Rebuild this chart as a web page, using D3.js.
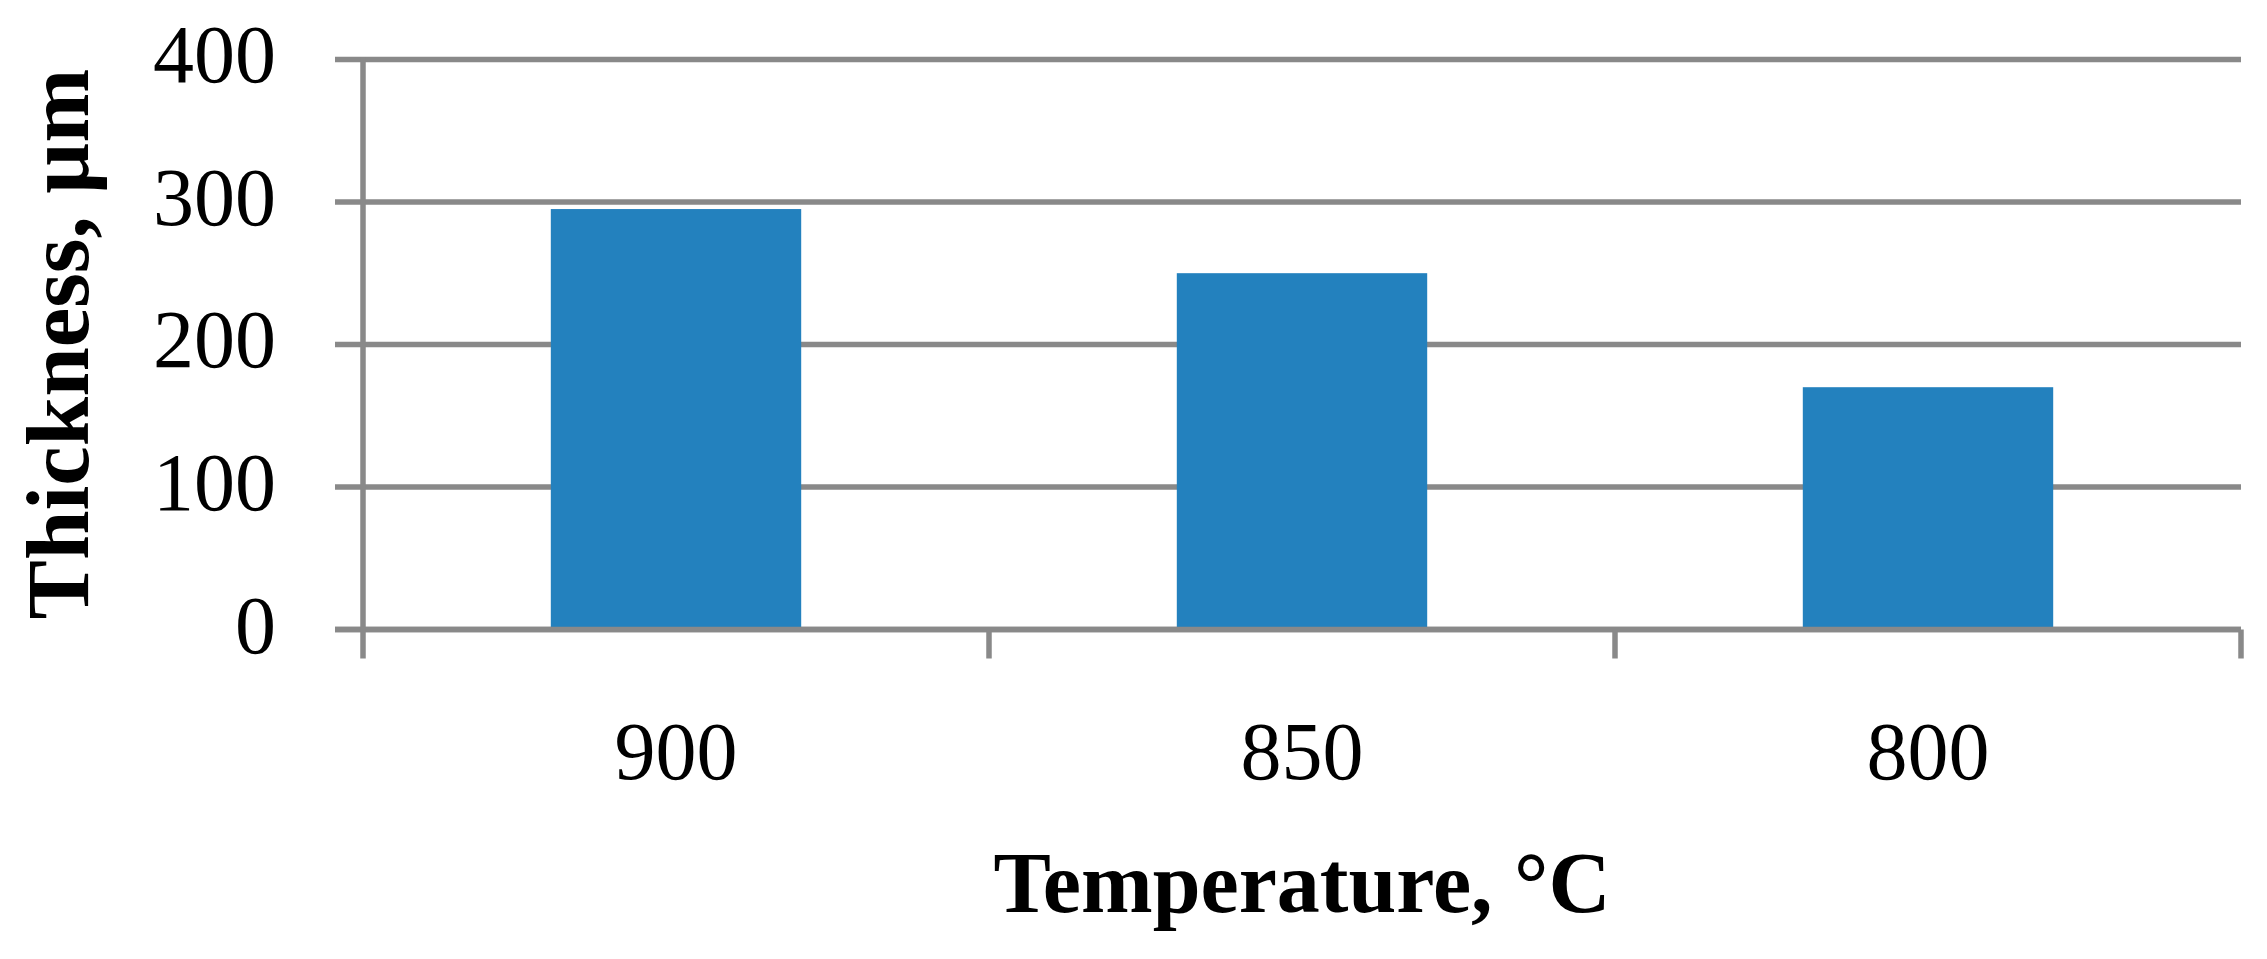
<!DOCTYPE html>
<html>
<head>
<meta charset="utf-8">
<script src="https://cdn.jsdelivr.net/npm/d3@7"></script>
<style>
  html, body { margin: 0; padding: 0; background: #ffffff; }
  svg { display: block; }
</style>
</head>
<body>
<script>
const categories = ["900", "850", "800"];
const thickness = [295, 250, 170];
const yTicks = [0, 100, 200, 300, 400];
const xTitle = "Temperature, °C";
const yTitle = "Thickness, µm";

const W = 2267, H = 959;
const plotLeft = 363, plotRight = 2241, plotTop = 59.4, plotBottom = 629.5;
const gridColor = "#898989";
const barColor = "#2381be";
const fontFam = "'Liberation Serif', 'Times New Roman', serif";

const svg = d3.select("body").append("svg").attr("width", W).attr("height", H);
svg.append("rect").attr("width", W).attr("height", H).attr("fill", "#fff");

const x = d3.scaleBand().domain(categories).range([plotLeft, plotRight]).paddingInner(0.6).paddingOuter(0.3);
const y = d3.scaleLinear().domain([0, 400]).range([plotBottom, plotTop]);

// gridlines (with outward tick to the left)
svg.append("g").selectAll("line").data(yTicks).join("line")
  .attr("x1", plotLeft - 28).attr("x2", plotRight)
  .attr("y1", d => y(d)).attr("y2", d => y(d))
  .attr("stroke", gridColor).attr("stroke-width", 5.5);

// bars
svg.append("g").selectAll("rect").data(categories).join("rect")
  .attr("x", d => x(d))
  .attr("width", x.bandwidth())
  .attr("y", (d, i) => y(thickness[i]))
  .attr("height", (d, i) => y(0) - y(thickness[i]))
  .attr("fill", barColor);

// baseline redraw over bars
svg.append("line").attr("x1", plotLeft - 28).attr("x2", plotRight)
  .attr("y1", y(0)).attr("y2", y(0))
  .attr("stroke", gridColor).attr("stroke-width", 5.5);

// y axis line
svg.append("line").attr("x1", plotLeft).attr("x2", plotLeft)
  .attr("y1", y(400) - 2.5).attr("y2", plotBottom + 29)
  .attr("stroke", gridColor).attr("stroke-width", 5.5);

// x category boundary ticks
const step = x.step();
const boundaries = d3.range(categories.length + 1).map(i => plotLeft + i * step);
svg.append("g").selectAll("line").data(boundaries.slice(1)).join("line")
  .attr("x1", d => d).attr("x2", d => d)
  .attr("y1", y(0)).attr("y2", plotBottom + 29)
  .attr("stroke", gridColor).attr("stroke-width", 5.5);

// y tick labels
svg.append("g").selectAll("text").data(yTicks).join("text")
  .attr("x", 276).attr("y", d => y(d) + 23)
  .attr("text-anchor", "end")
  .attr("font-family", fontFam).attr("font-size", 82)
  .attr("fill", "#000")
  .text(d => d);

// x tick labels
svg.append("g").selectAll("text").data(categories).join("text")
  .attr("x", d => x(d) + x.bandwidth() / 2).attr("y", 779)
  .attr("text-anchor", "middle")
  .attr("font-family", fontFam).attr("font-size", 82)
  .attr("fill", "#000")
  .text(d => d);

// x title
svg.append("text")
  .attr("x", (plotLeft + plotRight) / 2).attr("y", 912)
  .attr("text-anchor", "middle")
  .attr("font-family", fontFam).attr("font-weight", "bold").attr("font-size", 86)
  .attr("fill", "#000")
  .text(xTitle);

// y title
svg.append("text")
  .attr("transform", "translate(88,344) rotate(-90)")
  .attr("text-anchor", "middle")
  .attr("font-family", fontFam).attr("font-weight", "bold").attr("font-size", 89)
  .attr("fill", "#000")
  .text(yTitle);
</script>
</body>
</html>
